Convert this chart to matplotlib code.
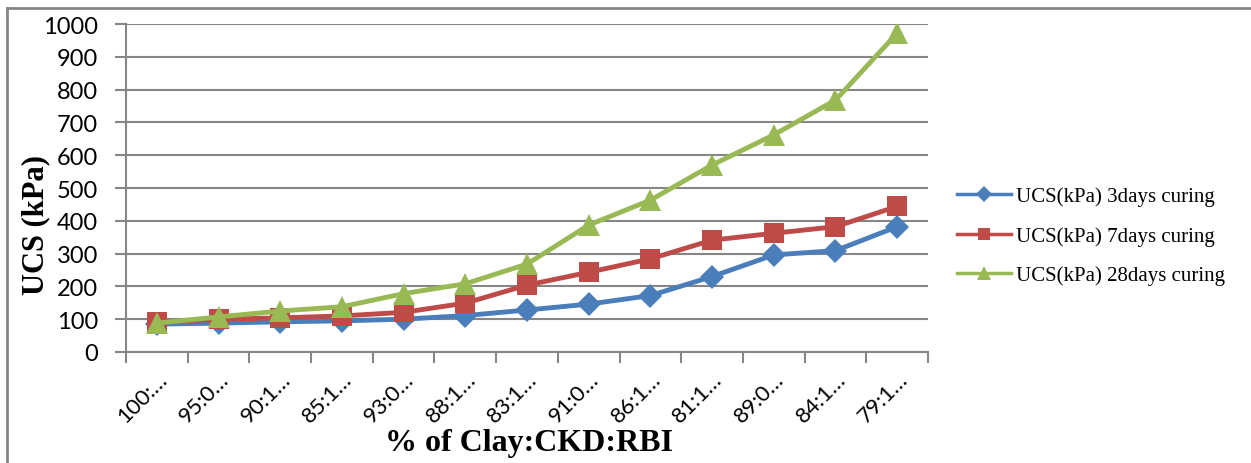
import matplotlib.pyplot as plt
from matplotlib.lines import Line2D

# category labels (truncated as in the original chart)
mixes = ["100:…", "95:0…", "90:1…", "85:1…", "93:0…", "88:1…", "83:1…",
         "91:0…", "86:1…", "81:1…", "89:0…", "84:1…", "79:1…"]

ucs_3d = [85, 88, 92, 95, 100, 111, 128, 146, 172, 230, 296, 309, 382]
ucs_7d = [91, 100, 104, 110, 121, 149, 204, 243, 284, 341, 362, 382, 444]
ucs_28d = [88, 107, 125, 138, 178, 208, 268, 387, 463, 570, 662, 768, 972]

labels = ["UCS(kPa) 3days curing", "UCS(kPa) 7days curing", "UCS(kPa) 28days curing"]
colors = ["#4A7EBB", "#BE4B48", "#98B954"]
markers = ["D", "s", "^"]
msizes = [12, 14, 16]

fig = plt.figure(figsize=(12.51, 4.64), dpi=100)
ax = fig.add_axes([126 / 1251, 1 - 353 / 464, (928 - 126) / 1251, (353 - 25) / 464])

x = list(range(len(mixes)))
for vals, lab, c, m, ms in zip([ucs_3d, ucs_7d, ucs_28d], labels, colors, markers, msizes):
    ax.plot(x, vals, color=c, marker=m, markersize=ms, linewidth=3.5, label=lab,
            markeredgewidth=0, zorder=3)

ax.set_xlim(-0.5, len(mixes) - 0.5)
ax.set_ylim(0, 1000)
ax.set_yticks(range(0, 1001, 100))
ax.set_xticks(x)
ax.set_xticklabels(mixes, rotation=45, ha="right", va="top", rotation_mode="anchor",
                   fontsize=16, family="Lato")
ax.tick_params(axis="x", length=0, pad=12)
for lbl in ax.get_yticklabels():
    lbl.set_family("Lato")
ax.tick_params(axis="y", labelsize=17, length=8, width=1.5, color="#868686", pad=12)
# category boundary ticks
ax.set_xticks([i - 0.5 for i in range(len(mixes) + 1)], minor=True)
ax.tick_params(axis="x", which="minor", length=8, width=1.5, color="#868686")

ax.grid(axis="y", color="#868686", linewidth=1.5)
ax.set_axisbelow(True)
for s in ["top", "right"]:
    ax.spines[s].set_visible(False)
for s in ["left", "bottom"]:
    ax.spines[s].set_color("#868686")
    ax.spines[s].set_linewidth(1.5)

ax.set_ylabel("UCS (kPa)", fontsize=22, fontweight="bold", family="Liberation Serif")
ax.yaxis.set_label_coords(-0.094, 0.39)
ax.set_xlabel("% of Clay:CKD:RBI", fontsize=23, fontweight="bold", family="Liberation Serif")
ax.xaxis.set_label_coords(0.503, -0.232)

handles = [Line2D([], [], color=c, marker=m, markersize=ms * 0.65, linewidth=2.5, markeredgewidth=0)
           for c, m, ms in zip(colors, markers, msizes)]
fig.legend(handles, labels, loc="center left", bbox_to_anchor=(938 / 1251, 1 - 237 / 464),
           frameon=False, prop={"family": "Liberation Serif", "size": 15},
           handlelength=2.6, handletextpad=0.25, labelspacing=0.95)

# outer chart frame
fig.add_artist(Line2D([7 / 1251, 7 / 1251], [0, 1 - 9 / 464], color="#868686", linewidth=2))
fig.add_artist(Line2D([7 / 1251, 1], [1 - 9 / 464, 1 - 9 / 464], color="#868686", linewidth=2))

fig.savefig("out.png", dpi=100)
